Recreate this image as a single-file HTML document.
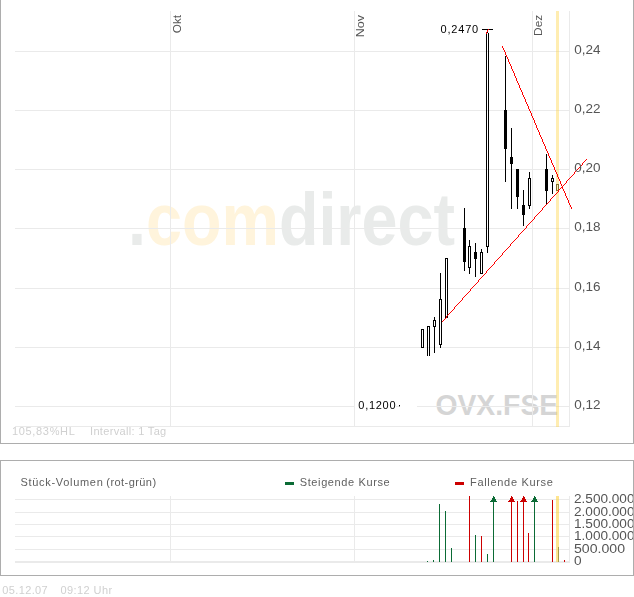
<!DOCTYPE html>
<html><head><meta charset="utf-8"><title>Chart</title><style>html,body{margin:0;padding:0;background:#fff}svg{display:block}text{font-family:"Liberation Sans",sans-serif}</style></head><body>
<svg width="634" height="597" viewBox="0 0 634 597">
<rect width="634" height="597" fill="#fff"/>
<g id="wm">
<text x="128" y="245.3" font-size="74" font-weight="bold" font-family="&quot;Liberation Sans&quot;, sans-serif" textLength="327" lengthAdjust="spacingAndGlyphs"><tspan fill="#e9ebea">.</tspan><tspan fill="#fff4dc">com</tspan><tspan fill="#e9ebea">direct</tspan></text>
</g>
<text opacity="0.999" x="435.4" y="415.3" font-size="29" font-weight="bold" fill="#d5d5d5" textLength="122.8" lengthAdjust="spacingAndGlyphs">OVX.FSE</text>
<g shape-rendering="crispEdges">
<rect x="15" y="51" width="555" height="1" fill="#eaeaea"/>
<rect x="15" y="110" width="555" height="1" fill="#eaeaea"/>
<rect x="15" y="169" width="555" height="1" fill="#eaeaea"/>
<rect x="15" y="228" width="555" height="1" fill="#eaeaea"/>
<rect x="15" y="288" width="555" height="1" fill="#eaeaea"/>
<rect x="15" y="347" width="555" height="1" fill="#eaeaea"/>
<rect x="15" y="406" width="555" height="1" fill="#eaeaea"/>
<rect x="15" y="426" width="555" height="1" fill="#eaeaea"/>
<rect x="170" y="11" width="1" height="416" fill="#eaeaea"/>
<rect x="354" y="11" width="1" height="416" fill="#eaeaea"/>
<rect x="532" y="11" width="1" height="416" fill="#eaeaea"/>
<rect x="569" y="11" width="1" height="416" fill="#eaeaea"/>
<rect x="355" y="400" width="41" height="12" fill="#fff"/>
<rect x="399" y="400" width="18" height="12" fill="#fff"/>
<rect x="15" y="499" width="555" height="1" fill="#eaeaea"/>
<rect x="15" y="512" width="555" height="1" fill="#eaeaea"/>
<rect x="15" y="524" width="555" height="1" fill="#eaeaea"/>
<rect x="15" y="536" width="555" height="1" fill="#eaeaea"/>
<rect x="15" y="549" width="555" height="1" fill="#eaeaea"/>
<rect x="15" y="561" width="555" height="2" fill="#eaeaea"/>
<rect x="170" y="496" width="1" height="66" fill="#eaeaea"/>
<rect x="354" y="496" width="1" height="66" fill="#eaeaea"/>
<rect x="569" y="496" width="1" height="66" fill="#eaeaea"/>
<rect x="556" y="11" width="3" height="416" fill="rgb(255,208,50)" fill-opacity="0.38"/>
<rect x="556" y="496" width="3" height="66" fill="rgb(255,205,40)" fill-opacity="0.52"/>
<rect x="0" y="0" width="1" height="444" fill="#adadad"/>
<rect x="633" y="0" width="1" height="444" fill="#adadad"/>
<rect x="0" y="443" width="634" height="1" fill="#adadad"/>
<rect x="0" y="460" width="634" height="1" fill="#adadad"/>
<rect x="0" y="460" width="1" height="116" fill="#adadad"/>
<rect x="633" y="460" width="1" height="116" fill="#adadad"/>
<rect x="0" y="575" width="634" height="1" fill="#adadad"/>
<rect x="421" y="329" width="3" height="19" fill="#000"/>
<rect x="422" y="330" width="1" height="17" fill="#fff"/>
<rect x="427" y="326" width="3" height="1" fill="#000"/>
<rect x="427" y="326" width="1" height="30" fill="#000"/>
<rect x="429" y="326" width="1" height="30" fill="#000"/>
<rect x="434" y="317" width="1" height="36" fill="#000"/>
<rect x="433" y="320" width="3" height="7" fill="#000"/>
<rect x="434" y="321" width="1" height="5" fill="#fff"/>
<rect x="440" y="273" width="1" height="75" fill="#000"/>
<rect x="439" y="299" width="3" height="46" fill="#000"/>
<rect x="440" y="300" width="1" height="44" fill="#fff"/>
<rect x="445" y="258" width="3" height="60" fill="#000"/>
<rect x="446" y="259" width="1" height="58" fill="#fff"/>
<rect x="464" y="208" width="1" height="63" fill="#000"/>
<rect x="463" y="228" width="3" height="34" fill="#000"/>
<rect x="469" y="240" width="1" height="34" fill="#000"/>
<rect x="468" y="246" width="3" height="22" fill="#000"/>
<rect x="469" y="247" width="1" height="20" fill="#fff"/>
<rect x="475" y="243" width="1" height="34" fill="#000"/>
<rect x="474" y="252" width="3" height="7" fill="#000"/>
<rect x="481" y="249" width="1" height="25" fill="#000"/>
<rect x="480" y="252" width="3" height="22" fill="#000"/>
<rect x="481" y="253" width="1" height="20" fill="#fff"/>
<rect x="487" y="246" width="1" height="7" fill="#000"/>
<rect x="486" y="34" width="1" height="213" fill="#000"/>
<rect x="488" y="33" width="1" height="214" fill="#000"/>
<rect x="487" y="32" width="1" height="1" fill="#000"/>
<rect x="486" y="246" width="3" height="1" fill="#000"/>
<rect x="505" y="56" width="1" height="126" fill="#000"/>
<rect x="504" y="110" width="3" height="39" fill="#000"/>
<rect x="511" y="128" width="1" height="81" fill="#000"/>
<rect x="510" y="157" width="3" height="7" fill="#000"/>
<rect x="517" y="169" width="1" height="40" fill="#000"/>
<rect x="516" y="169" width="3" height="28" fill="#000"/>
<rect x="523" y="190" width="1" height="36" fill="#000"/>
<rect x="522" y="205" width="3" height="10" fill="#000"/>
<rect x="529" y="172" width="1" height="37" fill="#000"/>
<rect x="528" y="178" width="3" height="28" fill="#000"/>
<rect x="529" y="179" width="1" height="26" fill="#fff"/>
<rect x="546" y="154" width="1" height="51" fill="#000"/>
<rect x="545" y="169" width="3" height="22" fill="#000"/>
<rect x="552" y="175" width="1" height="19" fill="#000"/>
<rect x="551" y="178" width="3" height="4" fill="#000"/>
<rect x="552" y="179" width="1" height="2" fill="#fff"/>
<rect x="556" y="184" width="3" height="1" fill="#82722f"/>
<rect x="556" y="190" width="3" height="1" fill="#82722f"/>
<rect x="556" y="184" width="1" height="7" fill="#82722f"/>
<rect x="558" y="184" width="1" height="7" fill="#82722f"/>
<rect x="482" y="29" width="11" height="1" fill="#000"/>
<rect x="488" y="29" width="1" height="1" fill="#ff0000"/>
<rect x="487" y="30" width="1" height="1" fill="#ff0000"/>
<rect x="487" y="31" width="1" height="1" fill="#ff0000"/>
<rect x="486" y="32" width="1" height="1" fill="#ff0000"/>
<rect x="486" y="33" width="1" height="1" fill="#ff0000"/>
<rect x="399" y="405" width="1" height="1" fill="#000"/>
<rect x="399" y="406" width="1" height="1" fill="#999"/>
<rect x="427" y="561" width="1" height="1" fill="#0b6b35"/>
<rect x="433" y="560" width="1" height="2" fill="#0b6b35"/>
<rect x="439" y="504" width="1" height="58" fill="#0b6b35"/>
<rect x="445" y="511" width="1" height="51" fill="#0b6b35"/>
<rect x="451" y="548" width="1" height="14" fill="#0b6b35"/>
<rect x="469" y="496" width="1" height="66" fill="#cc0000"/>
<rect x="475" y="535" width="1" height="27" fill="#0b6b35"/>
<rect x="481" y="536" width="1" height="26" fill="#cc0000"/>
<rect x="487" y="554" width="1" height="8" fill="#0b6b35"/>
<rect x="493" y="497" width="1" height="65" fill="#0b6b35"/>
<rect x="511" y="497" width="1" height="65" fill="#cc0000"/>
<rect x="517" y="501" width="1" height="61" fill="#cc0000"/>
<rect x="523" y="497" width="1" height="65" fill="#cc0000"/>
<rect x="528" y="533" width="1" height="29" fill="#cc0000"/>
<rect x="534" y="497" width="1" height="65" fill="#0b6b35"/>
<rect x="552" y="500" width="1" height="62" fill="#cc0000"/>
<rect x="558" y="547" width="1" height="15" fill="#a79a4a"/>
<rect x="564" y="560" width="1" height="2" fill="#cc0000"/>
<rect x="285" y="482" width="9" height="3" fill="#0b6b35"/>
<rect x="455" y="482" width="9" height="3" fill="#cc0000"/>
</g>
<g shape-rendering="crispEdges">
<rect x="493" y="496" width="1" height="1" fill="#0b6b35"/>
<rect x="493" y="497" width="2" height="1" fill="#0b6b35"/>
<rect x="492" y="498" width="3" height="1" fill="#0b6b35"/>
<rect x="492" y="499" width="4" height="1" fill="#0b6b35"/>
<rect x="491" y="500" width="5" height="1" fill="#0b6b35"/>
<rect x="490" y="501" width="7" height="1" fill="#0b6b35"/>
</g>
<g shape-rendering="crispEdges">
<rect x="511" y="496" width="1" height="1" fill="#cc0000"/>
<rect x="511" y="497" width="2" height="1" fill="#cc0000"/>
<rect x="510" y="498" width="3" height="1" fill="#cc0000"/>
<rect x="510" y="499" width="4" height="1" fill="#cc0000"/>
<rect x="509" y="500" width="5" height="1" fill="#cc0000"/>
<rect x="508" y="501" width="7" height="1" fill="#cc0000"/>
</g>
<g shape-rendering="crispEdges">
<rect x="523" y="496" width="1" height="1" fill="#cc0000"/>
<rect x="523" y="497" width="2" height="1" fill="#cc0000"/>
<rect x="522" y="498" width="3" height="1" fill="#cc0000"/>
<rect x="522" y="499" width="4" height="1" fill="#cc0000"/>
<rect x="521" y="500" width="5" height="1" fill="#cc0000"/>
<rect x="520" y="501" width="7" height="1" fill="#cc0000"/>
</g>
<g shape-rendering="crispEdges">
<rect x="534" y="496" width="1" height="1" fill="#0b6b35"/>
<rect x="534" y="497" width="2" height="1" fill="#0b6b35"/>
<rect x="533" y="498" width="3" height="1" fill="#0b6b35"/>
<rect x="533" y="499" width="4" height="1" fill="#0b6b35"/>
<rect x="532" y="500" width="5" height="1" fill="#0b6b35"/>
<rect x="531" y="501" width="7" height="1" fill="#0b6b35"/>
</g>
<g id="redlines" shape-rendering="crispEdges" fill="#ff0000">
<rect x="442" y="321" width="1" height="1"/>
<rect x="443" y="320" width="1" height="1"/>
<rect x="444" y="319" width="1" height="1"/>
<rect x="445" y="318" width="1" height="1"/>
<rect x="446" y="316" width="1" height="2"/>
<rect x="447" y="315" width="1" height="1"/>
<rect x="448" y="314" width="1" height="1"/>
<rect x="449" y="313" width="1" height="1"/>
<rect x="450" y="312" width="1" height="1"/>
<rect x="451" y="311" width="1" height="1"/>
<rect x="452" y="310" width="1" height="1"/>
<rect x="453" y="309" width="1" height="1"/>
<rect x="454" y="307" width="1" height="2"/>
<rect x="455" y="306" width="1" height="1"/>
<rect x="456" y="305" width="1" height="1"/>
<rect x="457" y="304" width="1" height="1"/>
<rect x="458" y="303" width="1" height="1"/>
<rect x="459" y="302" width="1" height="1"/>
<rect x="460" y="301" width="1" height="1"/>
<rect x="461" y="300" width="1" height="1"/>
<rect x="462" y="298" width="1" height="2"/>
<rect x="463" y="297" width="1" height="1"/>
<rect x="464" y="296" width="1" height="1"/>
<rect x="465" y="295" width="1" height="1"/>
<rect x="466" y="294" width="1" height="1"/>
<rect x="467" y="293" width="1" height="1"/>
<rect x="468" y="292" width="1" height="1"/>
<rect x="469" y="291" width="1" height="1"/>
<rect x="470" y="289" width="1" height="2"/>
<rect x="471" y="288" width="1" height="1"/>
<rect x="472" y="287" width="1" height="1"/>
<rect x="473" y="286" width="1" height="1"/>
<rect x="474" y="285" width="1" height="1"/>
<rect x="475" y="284" width="1" height="1"/>
<rect x="476" y="283" width="1" height="1"/>
<rect x="477" y="282" width="1" height="1"/>
<rect x="478" y="280" width="1" height="2"/>
<rect x="479" y="279" width="1" height="1"/>
<rect x="480" y="278" width="1" height="1"/>
<rect x="481" y="277" width="1" height="1"/>
<rect x="482" y="276" width="1" height="1"/>
<rect x="483" y="275" width="1" height="1"/>
<rect x="484" y="274" width="1" height="1"/>
<rect x="485" y="273" width="1" height="1"/>
<rect x="486" y="271" width="1" height="2"/>
<rect x="487" y="270" width="1" height="1"/>
<rect x="488" y="269" width="1" height="1"/>
<rect x="489" y="268" width="1" height="1"/>
<rect x="490" y="267" width="1" height="1"/>
<rect x="491" y="266" width="1" height="1"/>
<rect x="492" y="265" width="1" height="1"/>
<rect x="493" y="264" width="1" height="1"/>
<rect x="494" y="262" width="1" height="2"/>
<rect x="495" y="261" width="1" height="1"/>
<rect x="496" y="260" width="1" height="1"/>
<rect x="497" y="259" width="1" height="1"/>
<rect x="498" y="258" width="1" height="1"/>
<rect x="499" y="257" width="1" height="1"/>
<rect x="500" y="256" width="1" height="1"/>
<rect x="501" y="255" width="1" height="1"/>
<rect x="502" y="253" width="1" height="2"/>
<rect x="503" y="252" width="1" height="1"/>
<rect x="504" y="251" width="1" height="1"/>
<rect x="505" y="250" width="1" height="1"/>
<rect x="506" y="249" width="1" height="1"/>
<rect x="507" y="248" width="1" height="1"/>
<rect x="508" y="247" width="1" height="1"/>
<rect x="509" y="246" width="1" height="1"/>
<rect x="510" y="244" width="1" height="2"/>
<rect x="511" y="243" width="1" height="1"/>
<rect x="512" y="242" width="1" height="1"/>
<rect x="513" y="241" width="1" height="1"/>
<rect x="514" y="240" width="1" height="1"/>
<rect x="515" y="239" width="1" height="1"/>
<rect x="516" y="238" width="1" height="1"/>
<rect x="517" y="237" width="1" height="1"/>
<rect x="518" y="235" width="1" height="2"/>
<rect x="519" y="234" width="1" height="1"/>
<rect x="520" y="233" width="1" height="1"/>
<rect x="521" y="232" width="1" height="1"/>
<rect x="522" y="231" width="1" height="1"/>
<rect x="523" y="230" width="1" height="1"/>
<rect x="524" y="229" width="1" height="1"/>
<rect x="525" y="228" width="1" height="1"/>
<rect x="526" y="226" width="1" height="2"/>
<rect x="527" y="225" width="1" height="1"/>
<rect x="528" y="224" width="1" height="1"/>
<rect x="529" y="223" width="1" height="1"/>
<rect x="530" y="222" width="1" height="1"/>
<rect x="531" y="221" width="1" height="1"/>
<rect x="532" y="220" width="1" height="1"/>
<rect x="533" y="219" width="1" height="1"/>
<rect x="534" y="217" width="1" height="2"/>
<rect x="535" y="216" width="1" height="1"/>
<rect x="536" y="215" width="1" height="1"/>
<rect x="537" y="214" width="1" height="1"/>
<rect x="538" y="213" width="1" height="1"/>
<rect x="539" y="212" width="1" height="1"/>
<rect x="540" y="211" width="1" height="1"/>
<rect x="541" y="210" width="1" height="1"/>
<rect x="542" y="208" width="1" height="2"/>
<rect x="543" y="207" width="1" height="1"/>
<rect x="544" y="206" width="1" height="1"/>
<rect x="545" y="205" width="1" height="1"/>
<rect x="546" y="204" width="1" height="1"/>
<rect x="547" y="203" width="1" height="1"/>
<rect x="548" y="202" width="1" height="1"/>
<rect x="549" y="201" width="1" height="1"/>
<rect x="550" y="199" width="1" height="2"/>
<rect x="551" y="198" width="1" height="1"/>
<rect x="552" y="197" width="1" height="1"/>
<rect x="553" y="196" width="1" height="1"/>
<rect x="554" y="195" width="1" height="1"/>
<rect x="555" y="194" width="1" height="1"/>
<rect x="556" y="193" width="1" height="1"/>
<rect x="557" y="192" width="1" height="1"/>
<rect x="558" y="190" width="1" height="2"/>
<rect x="559" y="189" width="1" height="1"/>
<rect x="560" y="188" width="1" height="1"/>
<rect x="561" y="187" width="1" height="1"/>
<rect x="562" y="186" width="1" height="1"/>
<rect x="563" y="185" width="1" height="1"/>
<rect x="564" y="184" width="1" height="1"/>
<rect x="565" y="183" width="1" height="1"/>
<rect x="566" y="181" width="1" height="2"/>
<rect x="567" y="180" width="1" height="1"/>
<rect x="568" y="179" width="1" height="1"/>
<rect x="569" y="178" width="1" height="1"/>
<rect x="570" y="177" width="1" height="1"/>
<rect x="571" y="176" width="1" height="1"/>
<rect x="572" y="175" width="1" height="1"/>
<rect x="573" y="174" width="1" height="1"/>
<rect x="574" y="172" width="1" height="2"/>
<rect x="575" y="171" width="1" height="1"/>
<rect x="576" y="170" width="1" height="1"/>
<rect x="577" y="169" width="1" height="1"/>
<rect x="578" y="168" width="1" height="1"/>
<rect x="579" y="167" width="1" height="1"/>
<rect x="580" y="166" width="1" height="1"/>
<rect x="581" y="165" width="1" height="1"/>
<rect x="582" y="163" width="1" height="2"/>
<rect x="583" y="162" width="1" height="1"/>
<rect x="584" y="161" width="1" height="1"/>
<rect x="585" y="160" width="1" height="1"/>
<rect x="586" y="159" width="1" height="1"/>
<rect x="502" y="46" width="1" height="2"/>
<rect x="503" y="48" width="1" height="2"/>
<rect x="504" y="50" width="1" height="2"/>
<rect x="505" y="52" width="1" height="3"/>
<rect x="506" y="55" width="1" height="2"/>
<rect x="507" y="57" width="1" height="2"/>
<rect x="508" y="59" width="1" height="3"/>
<rect x="509" y="62" width="1" height="2"/>
<rect x="510" y="64" width="1" height="2"/>
<rect x="511" y="66" width="1" height="3"/>
<rect x="512" y="69" width="1" height="2"/>
<rect x="513" y="71" width="1" height="2"/>
<rect x="514" y="73" width="1" height="3"/>
<rect x="515" y="76" width="1" height="2"/>
<rect x="516" y="78" width="1" height="3"/>
<rect x="517" y="81" width="1" height="2"/>
<rect x="518" y="83" width="1" height="2"/>
<rect x="519" y="85" width="1" height="3"/>
<rect x="520" y="88" width="1" height="2"/>
<rect x="521" y="90" width="1" height="2"/>
<rect x="522" y="92" width="1" height="3"/>
<rect x="523" y="95" width="1" height="2"/>
<rect x="524" y="97" width="1" height="2"/>
<rect x="525" y="99" width="1" height="3"/>
<rect x="526" y="102" width="1" height="2"/>
<rect x="527" y="104" width="1" height="2"/>
<rect x="528" y="106" width="1" height="3"/>
<rect x="529" y="109" width="1" height="2"/>
<rect x="530" y="111" width="1" height="2"/>
<rect x="531" y="113" width="1" height="3"/>
<rect x="532" y="116" width="1" height="2"/>
<rect x="533" y="118" width="1" height="2"/>
<rect x="534" y="120" width="1" height="3"/>
<rect x="535" y="123" width="1" height="2"/>
<rect x="536" y="125" width="1" height="3"/>
<rect x="537" y="128" width="1" height="2"/>
<rect x="538" y="130" width="1" height="2"/>
<rect x="539" y="132" width="1" height="3"/>
<rect x="540" y="135" width="1" height="2"/>
<rect x="541" y="137" width="1" height="2"/>
<rect x="542" y="139" width="1" height="3"/>
<rect x="543" y="142" width="1" height="2"/>
<rect x="544" y="144" width="1" height="2"/>
<rect x="545" y="146" width="1" height="3"/>
<rect x="546" y="149" width="1" height="2"/>
<rect x="547" y="151" width="1" height="2"/>
<rect x="548" y="153" width="1" height="3"/>
<rect x="549" y="156" width="1" height="2"/>
<rect x="550" y="158" width="1" height="2"/>
<rect x="551" y="160" width="1" height="3"/>
<rect x="552" y="163" width="1" height="2"/>
<rect x="553" y="165" width="1" height="2"/>
<rect x="554" y="167" width="1" height="3"/>
<rect x="555" y="170" width="1" height="2"/>
<rect x="556" y="172" width="1" height="2"/>
<rect x="557" y="174" width="1" height="3"/>
<rect x="558" y="177" width="1" height="2"/>
<rect x="559" y="179" width="1" height="2"/>
<rect x="560" y="181" width="1" height="3"/>
<rect x="561" y="184" width="1" height="2"/>
<rect x="562" y="186" width="1" height="3"/>
<rect x="563" y="189" width="1" height="2"/>
<rect x="564" y="191" width="1" height="2"/>
<rect x="565" y="193" width="1" height="3"/>
<rect x="566" y="196" width="1" height="2"/>
<rect x="567" y="198" width="1" height="2"/>
<rect x="568" y="200" width="1" height="3"/>
<rect x="569" y="203" width="1" height="2"/>
<rect x="570" y="205" width="1" height="2"/>
<rect x="571" y="207" width="1" height="2"/>
</g>
<g opacity="0.999">
<text x="574.2" y="53.6" font-size="12.5" fill="#555" textLength="26.3" lengthAdjust="spacingAndGlyphs">0,24</text>
<text x="574.2" y="112.6" font-size="12.5" fill="#555" textLength="26.3" lengthAdjust="spacingAndGlyphs">0,22</text>
<text x="574.2" y="171.6" font-size="12.5" fill="#555" textLength="26.3" lengthAdjust="spacingAndGlyphs">0,20</text>
<text x="574.2" y="230.6" font-size="12.5" fill="#555" textLength="26.3" lengthAdjust="spacingAndGlyphs">0,18</text>
<text x="574.2" y="290.6" font-size="12.5" fill="#555" textLength="26.3" lengthAdjust="spacingAndGlyphs">0,16</text>
<text x="574.2" y="349.6" font-size="12.5" fill="#555" textLength="26.3" lengthAdjust="spacingAndGlyphs">0,14</text>
<text x="574.2" y="408.6" font-size="12.5" fill="#555" textLength="26.3" lengthAdjust="spacingAndGlyphs">0,12</text>
<text x="440.5" y="33" font-size="11" fill="#000" textLength="37.7" lengthAdjust="spacing">0,2470</text>
<text x="358.3" y="409" font-size="11" fill="#000" textLength="37.2" lengthAdjust="spacing">0,1200</text>
<text transform="translate(181.2,15) rotate(-90)" x="0" y="0" text-anchor="end" font-size="11" fill="#555" textLength="18.2" lengthAdjust="spacingAndGlyphs">Okt</text>
<text transform="translate(364.2,15) rotate(-90)" x="0" y="0" text-anchor="end" font-size="11" fill="#555" textLength="22.3" lengthAdjust="spacingAndGlyphs">Nov</text>
<text transform="translate(541.5,14.8) rotate(-90)" x="0" y="0" text-anchor="end" font-size="11" fill="#555" textLength="21.1" lengthAdjust="spacingAndGlyphs">Dez</text>
<text x="12" y="435.3" font-size="11" fill="#d0d0d0" textLength="62.8" lengthAdjust="spacing">105,83%HL</text>
<text x="90" y="435.3" font-size="11" fill="#d0d0d0" textLength="76.2" lengthAdjust="spacing">Intervall: 1 Tag</text>
<text x="20.5" y="486.2" font-size="11" fill="#606060" textLength="82.3" lengthAdjust="spacing">Stück-Volumen</text>
<text x="106.3" y="486.2" font-size="11" fill="#606060" textLength="49.8" lengthAdjust="spacing">(rot-grün)</text>
<text x="299.7" y="486.2" font-size="11" fill="#606060" textLength="90.0" lengthAdjust="spacing">Steigende Kurse</text>
<text x="470" y="486.2" font-size="11" fill="#606060" textLength="82.9" lengthAdjust="spacing">Fallende Kurse</text>
<text x="574.0" y="502.8" font-size="12" fill="#555" textLength="60.5" lengthAdjust="spacingAndGlyphs">2.500.000</text>
<text x="574.0" y="515.8" font-size="12" fill="#555" textLength="60.5" lengthAdjust="spacingAndGlyphs">2.000.000</text>
<text x="574.0" y="527.8" font-size="12" fill="#555" textLength="60.5" lengthAdjust="spacingAndGlyphs">1.500.000</text>
<text x="574.0" y="539.9" font-size="12" fill="#555" textLength="60.5" lengthAdjust="spacingAndGlyphs">1.000.000</text>
<text x="574.0" y="552.8" font-size="12" fill="#555" textLength="51" lengthAdjust="spacingAndGlyphs">500.000</text>
<text x="574.0" y="564.8" font-size="12" fill="#555" textLength="7.6" lengthAdjust="spacingAndGlyphs">0</text>
<rect x="633" y="460" width="1" height="116" fill="#adadad" shape-rendering="crispEdges"/>
<text x="2.2" y="593.6" font-size="11" fill="#d0d0d0" textLength="45.5" lengthAdjust="spacing">05.12.07</text>
<text x="60.5" y="593.6" font-size="11" fill="#d0d0d0" textLength="51.6" lengthAdjust="spacing">09:12 Uhr</text>
</g>
</svg></body></html>
